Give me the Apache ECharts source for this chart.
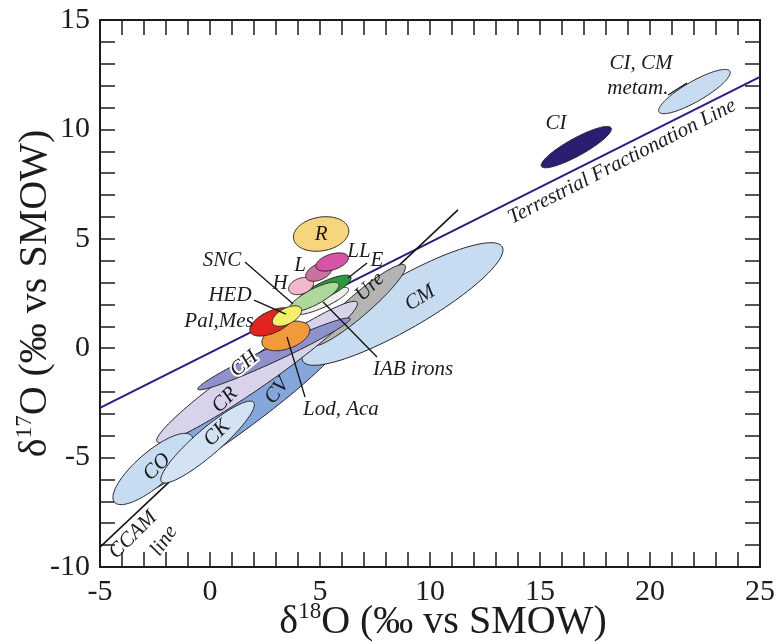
<!DOCTYPE html>
<html><head><meta charset="utf-8">
<script src="https://cdn.jsdelivr.net/npm/echarts@6/dist/echarts.min.js"></script>
<style>html,body{margin:0;padding:0;background:#fff}#c{width:779px;height:644px}</style>
</head><body><div id="c"></div>
<script>
// ---- Data (δ18O, δ17O in ‰ vs SMOW) ----
// Meteorite group fields, drawn bottom to top
const groupNames = ['CV','CM','Ure','CR','CH','CO','CK','Lod, Aca','IAB irons','E','SNC','Pal,Mes','HED','H','L','LL','R','CI','CI, CM metam.'];
const centerX  = [0.90, 8.75, 6.77, 2.14, 2.91, -2.59, -0.11, 3.45, 5.05, 5.18, 4.73, 2.82, 3.50, 4.14, 4.95, 5.55, 5.05, 16.65, 22.02];
const centerY  = [-3.30, 2.02, 1.97, -1.09, -0.26, -5.52, -4.29, 0.56, 2.16, 2.66, 2.34, 1.20, 1.47, 2.84, 3.48, 3.94, 5.22, 9.19, 11.73];
const semiMajor = [6.25, 5.23, 2.77, 5.55, 3.82, 2.32, 2.77, 1.14, 1.36, 1.36, 1.27, 1.09, 0.73, 0.59, 0.64, 0.77, 1.27, 1.81, 1.86];
const semiMinor = [0.77, 1.16, 0.50, 0.68, 0.34, 0.77, 0.59, 0.59, 0.32, 0.36, 0.36, 0.50, 0.36, 0.36, 0.36, 0.36, 0.77, 0.40, 0.46];
const tiltDeg   = [36, 30, 41, 35, 25, 41, 41, 20, 24, 26, 28, 25, 28, 20, 25, 18, 10, 29, 30];

// Reference lines
const tflX = [-5, 25];          // Terrestrial Fractionation Line
const tflY = [-2.73, 12.40];
const ccamX = [-5, 11.27];      // CCAM line
const ccamY = [-9.09, 6.32];

// Leader lines [x1, y1, x2, y2]
const leaderX1 = [1.59, 2.00, 7.14, 7.59, 4.32, 20.82];
const leaderY1 = [3.94, 2.20, 3.89, -0.40, -2.23, 11.57];
const leaderX2 = [3.77, 3.45, 6.27, 5.14, 3.50, 21.68];
const leaderY2 = [2.03, 1.56, 3.21, 2.11, 0.51, 12.12];

// Annotation texts
const noteText = ['R','LL','L','H','E','SNC','HED','Pal,Mes','CH','CR','CV','CK','CO','CCAM','line','Ure','CM','IAB irons','Lod, Aca','CI','CI, CM','metam.','Terrestrial Fractionation Line'];
const noteX = [5.05, 6.77, 4.09, 3.18, 7.59, 0.55, 0.91, 0.41, 1.55, 0.68, 3.05, 0.32, -2.41, -3.50, -2.09, 7.27, 9.55, 9.23, 5.95, 15.73, 19.59, 19.45, 18.73];
const noteY = [5.22, 4.44, 3.80, 2.98, 4.03, 3.99, 2.43, 1.24, -0.72, -2.37, -1.96, -3.88, -5.43, -8.54, -8.81, 2.80, 2.29, -0.95, -2.82, 10.25, 13.03, 11.89, 8.52];
const noteAngle = [0, 0, 0, 0, 0, 0, 0, 0, 40, 45, 52, 45, 45, 45, 55, 45, 32, 0, 0, 0, 0, 0, 27];

const xTicks = [-5, 25, 5];   // min, max, step
const yTicks = [-10, 15, 5];

// ---- Styles ----
const fills = ['#84a6da','#c8dcf1','#b4b4b4','#d8d2eb','#8f91cc','#c8dcf1','#d3e3f4','#f19a3c','#efefec','#2f9a3b','#acd99b','#e2231f','#f4f06a','#f3b8cb','#c9739c','#d653a7','#f6d57c','#2c1c72','#c8dcf1'];
const haloNotes = {'CH': true};
const serif = '"Liberation Serif","DejaVu Serif",serif';
const ink = '#1c1c1c';

const chart = echarts.init(document.getElementById('c'));

const axisBase = {
  type: 'value',
  nameMoveOverlap: false,
  axisLine: {show: true, onZero: false, lineStyle: {color: ink, width: 2}},
  axisTick: {show: true, inside: true, length: 15, lineStyle: {color: ink, width: 1.5}},
  minorTick: {show: true, splitNumber: 5, length: 15, lineStyle: {color: ink, width: 1.5}},
  splitLine: {show: false},
  minorSplitLine: {show: false}
};
const tickLabel = {fontSize: 30, fontFamily: serif, color: ink, margin: 10};
const titleStyle = {
  fontFamily: serif, fontSize: 40, color: ink,
  rich: {
    m: {fontFamily: serif, fontSize: 40, color: ink, lineHeight: 44},
    sup: {fontFamily: serif, fontSize: 23, color: ink, verticalAlign: 'top', lineHeight: 25}
  }
};

const option = {
  animation: false,
  backgroundColor: '#ffffff',
  grid: {left: 100, right: 19, top: 20, bottom: 77, containLabel: false, outerBoundsMode: 'none'},
  xAxis: [
    Object.assign({}, axisBase, {
      min: xTicks[0], max: xTicks[1], interval: xTicks[2], position: 'bottom',
      axisLabel: tickLabel,
      name: '{m|δ}{sup|18}{m|O (‰ vs SMOW)}', nameLocation: 'middle', nameGap: 33,
      nameTextStyle: Object.assign({padding: [0, 0, 0, 26]}, titleStyle)
    }),
    Object.assign({}, axisBase, {
      min: xTicks[0], max: xTicks[1], interval: xTicks[2], position: 'top',
      axisLabel: {show: false}
    })
  ],
  yAxis: [
    Object.assign({}, axisBase, {
      min: yTicks[0], max: yTicks[1], interval: yTicks[2], position: 'left',
      axisLabel: tickLabel,
      name: '{m|δ}{sup|17}{m|O (‰ vs SMOW)}', nameLocation: 'middle', nameGap: 43,
      nameTextStyle: titleStyle
    }),
    Object.assign({}, axisBase, {
      min: yTicks[0], max: yTicks[1], interval: yTicks[2], position: 'right',
      axisLabel: {show: false}
    })
  ],
  series: [
    {
      type: 'line', z: 1, symbol: 'none', silent: true,
      data: tflX.map((x, i) => [x, tflY[i]]),
      lineStyle: {color: '#2d1b82', width: 2}
    },
    {
      type: 'line', z: 1, symbol: 'none', silent: true,
      data: ccamX.map((x, i) => [x, ccamY[i]]),
      lineStyle: {color: '#111', width: 1.5}
    },
    {
      type: 'custom', z: 2, silent: true,
      data: groupNames.map((n, i) => [centerX[i], centerY[i]]),
      encode: {x: 0, y: 1},
      renderItem: function (params, api) {
        const i = params.dataIndex;
        const th = tiltDeg[i] * Math.PI / 180;
        const a = semiMajor[i], b = semiMinor[i];
        const pts = [];
        const N = 120;
        for (let k = 0; k < N; k++) {
          const t = k / N * 2 * Math.PI;
          const dx = a * Math.cos(th) * Math.cos(t) - b * Math.sin(th) * Math.sin(t);
          const dy = a * Math.sin(th) * Math.cos(t) + b * Math.cos(th) * Math.sin(t);
          pts.push(api.coord([centerX[i] + dx, centerY[i] + dy]));
        }
        return {type: 'polygon', shape: {points: pts}, style: {fill: fills[i], stroke: '#262626', lineWidth: 1}};
      }
    },
    {
      type: 'custom', z: 3, silent: true,
      data: leaderX1.map((x, i) => [x, leaderY1[i]]),
      encode: {x: 0, y: 1},
      renderItem: function (params, api) {
        const i = params.dataIndex;
        const p1 = api.coord([leaderX1[i], leaderY1[i]]);
        const p2 = api.coord([leaderX2[i], leaderY2[i]]);
        return {type: 'line', shape: {x1: p1[0], y1: p1[1], x2: p2[0], y2: p2[1]}, style: {stroke: '#111', lineWidth: 1.3}};
      }
    },
    {
      type: 'custom', z: 4, silent: true,
      data: noteText.map((t, i) => [noteX[i], noteY[i]]),
      encode: {x: 0, y: 1},
      renderItem: function (params, api) {
        const i = params.dataIndex;
        const p = api.coord([noteX[i], noteY[i]]);
        const halo = haloNotes[noteText[i]];
        return {
          type: 'text', x: p[0], y: p[1], rotation: noteAngle[i] * Math.PI / 180,
          style: {
            text: noteText[i], fontFamily: serif, fontStyle: 'italic', fontSize: 21,
            fill: ink, align: 'center', verticalAlign: 'middle',
            stroke: halo ? '#ffffff' : null, lineWidth: halo ? 4 : 0
          }
        };
      }
    }
  ]
};
chart.setOption(option);
</script></body></html>
